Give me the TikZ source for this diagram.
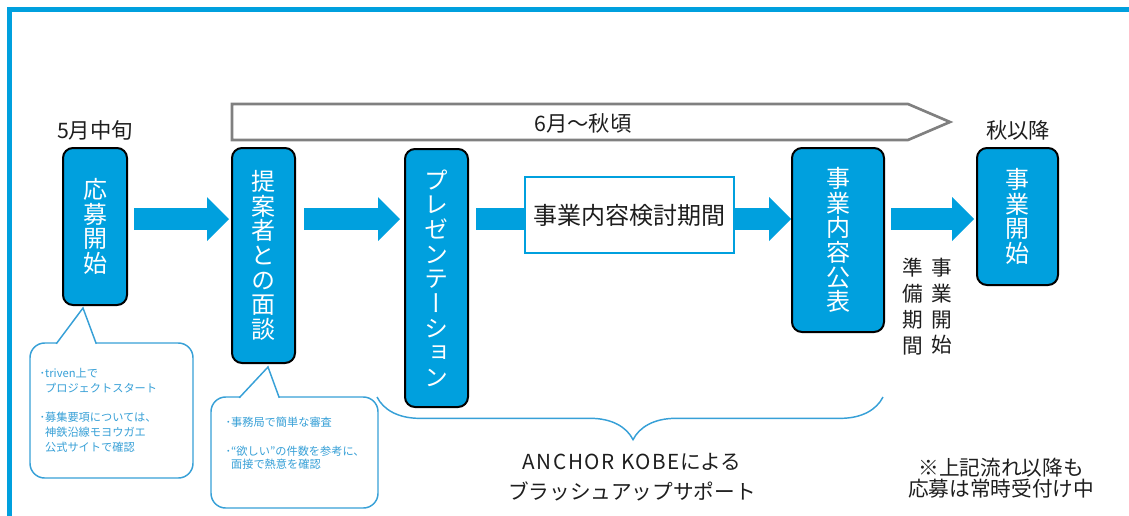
\documentclass[tikz,border=0pt]{standalone}
\usepackage{fontspec}
\setmainfont{Noto Sans CJK JP}
\newfontfamily\tatefont[RawFeature=+vert]{Noto Sans CJK JP}
\usetikzlibrary{arrows.meta,calc,decorations.pathreplacing}

\definecolor{kobeblue}{RGB}{0,160,222}
\definecolor{noteblue}{RGB}{55,160,215}
\definecolor{bannergray}{RGB}{128,128,128}
\definecolor{inkgray}{RGB}{30,30,30}

\tikzset{
  stepbox/.style={draw=black, line width=1.5pt, fill=kobeblue, rounded corners=7.5pt, text=white, align=center, inner sep=0pt, font=\tatefont\fontsize{18}{18.5}\selectfont},
  planbox/.style={draw=kobeblue, line width=1.5pt, fill=white, inner sep=0pt, text=inkgray, font=\fontsize{18}{20}\selectfont},
  bigarrow/.style={kobeblue, line width=16.5pt, -{Triangle[length=16.5pt,width=33pt,line width=0pt]}},
  callout/.style={draw=noteblue, line width=1.1pt, fill=white, rounded corners=11pt, inner sep=0pt},
  notetext/.style={text=noteblue, align=left, inner sep=0pt},
  period/.style={text=inkgray, inner sep=0pt, font=\fontsize{16}{18}\selectfont},
}

\begin{document}
\begin{tikzpicture}[x=0.75pt,y=0.75pt,yscale=-1]
\useasboundingbox (0,0) rectangle (1129,515);

% frame
\draw[kobeblue, line width=3.75pt] (9.5,530) -- (9.5,9.5) -- (1140,9.5);

% period banner
\draw[bannergray, line width=2pt] (232,104) -- (908,104) -- (950,122) -- (908,140) -- (232,140) -- cycle;
\node[period] (june) at (583,123) {6月～秋頃};
\node[period] (may) at (95,130) {5月中旬};
\node[period] (autumn) at (1018,130) {秋以降};

% steps
\node[stepbox, minimum width=48pt, minimum height=117.75pt] (oubo) at (95,226.5) {応\\募\\開\\始};
\node[stepbox, minimum width=47.25pt, minimum height=161.25pt] (mendan) at (263.5,255.5) {提\\案\\者\\と\\の\\面\\談};
\node[stepbox, minimum width=47.25pt, minimum height=193.5pt] (presen) at (436.5,278) {プ\\レ\\ゼ\\ン\\テ\\ー\\シ\\ョ\\ン};
\node[stepbox, minimum width=69pt, minimum height=138pt] (kouhyou) at (838,240) {事\\業\\内\\容\\公\\表};
\node[stepbox, minimum width=60.75pt, minimum height=102.75pt] (kaishi) at (1017.5,216.5) {事\\業\\開\\始};

% arrows
\coordinate (lane) at (0,219);
\draw[bigarrow] ($(oubo.east |- lane)+(6,0)$) -- ($(mendan.west |- lane)+(-2,0)$);
\draw[bigarrow] ($(mendan.east |- lane)+(8,0)$) -- ($(presen.west |- lane)+(-4,0)$);
\draw[bigarrow] ($(presen.east |- lane)+(7,0)$) -- ($(kouhyou.west |- lane)+(0,0)$);
\draw[bigarrow] ($(kouhyou.east |- lane)+(6,0)$) -- ($(kaishi.west |- lane)+(-2,0)$);

\node[planbox, minimum width=156.75pt, minimum height=57pt] (kentou) at (629.5,215) {事業内容検討期間};

% preparation
\node[period, align=center, font=\tatefont\fontsize{15.5}{19.3}\selectfont] (junbi) at (913,306.5) {準\\備\\期\\間};
\node[period, align=center, font=\tatefont\fontsize{15.5}{19.3}\selectfont] (jigyou) at (942,306.5) {事\\業\\開\\始};

% notes
\node[callout, minimum width=122.25pt, minimum height=101.25pt] (note1) at (111.5,410.5) {};
\coordinate (note1tip) at ($(oubo.south)+(-12,2)$);
\filldraw[noteblue, fill=white, line width=1.1pt] ($(note1.north west)+(27,1.5)$) -- (note1tip) -- ($(note1.north west)+(67,1.5)$);
\node[notetext, anchor=north west, font=\fontsize{8.4}{11}\selectfont] (note1text) at ($(note1.north west)+(10,26)$) {･triven上で\\\hphantom{･}プロジェクトスタート\\[11pt]･募集要項については、\\\hphantom{･}神鉄沿線モヨウガエ\\\hphantom{･}公式サイトで確認};

\node[callout, minimum width=125.25pt, minimum height=83.25pt] (note2) at (294.5,452.5) {};
\coordinate (note2tip) at ($(mendan.south)+(4.5,3)$);
\filldraw[noteblue, fill=white, line width=1.1pt] ($(note2.north west)+(29,1.5)$) -- (note2tip) -- ($(note2.north west)+(69,1.5)$);
\node[notetext, anchor=north west, font=\fontsize{8.4}{10}\selectfont] (note2text) at ($(note2.north west)+(15,20)$) {･事務局で簡単な審査\\[12pt]･“欲しい”の件数を参考に、\\\hphantom{･}面接で熱意を確認};

% support
\draw[noteblue, line width=1.1pt, decorate, decoration={brace, amplitude=32pt, aspect=0.494}] (883,397) -- (377,397);
\node[period, align=center, font=\fontsize{15.5}{22.5}\selectfont] (support) at (632,477) {{\addfontfeature{LetterSpace=8}ANCHOR KOBE}による\\ブラッシュアップサポート};
\node[period, align=center, font=\fontsize{15.5}{16}\selectfont] (always) at (1001,478) {※上記流れ以降も\\応募は常時受付け中};
\end{tikzpicture}
\end{document}
